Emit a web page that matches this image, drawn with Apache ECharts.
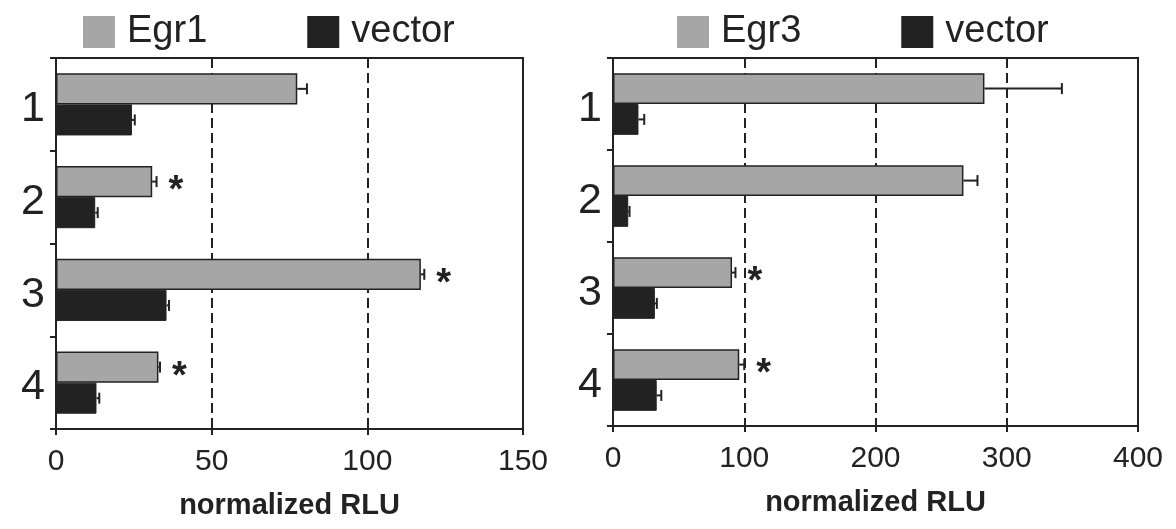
<!DOCTYPE html>
<html>
<head>
<meta charset="utf-8">
<script src="https://cdn.jsdelivr.net/npm/echarts@6/dist/echarts.min.js"></script>
<style>
  html, body { margin: 0; padding: 0; background: #fff; }
  #chart { width: 1176px; height: 529px; }
</style>
</head>
<body>
<div id="chart"></div>
<script>
  const categories = ['1', '2', '3', '4']

  // left panel: Egr1 vs vector
  const egr1Values = [77.5, 30.9, 117.2, 32.9]
  const egr1Errors = [3.1, 1.4, 1.1, 0.5]
  const vec1Values = [24.4, 12.6, 35.5, 13.0]
  const vec1Errors = [0.9, 0.8, 0.8, 0.9]
  const egr1Marks = ['', '*', '*', '*']
  const leftTicks = [0, 50, 100, 150]

  // right panel: Egr3 vs vector
  const egr3Values = [283, 267, 90.7, 96.2]
  const egr3Errors = [59, 10.7, 2.6, 3.8]
  const vec3Values = [19.4, 11.6, 31.9, 33.3]
  const vec3Errors = [4.4, 1.0, 1.5, 3.5]
  const egr3Marks = ['', '', '*', '*']
  const rightTicks = [0, 100, 200, 300, 400]

  const ink = '#222'
  const grey = '#a6a6a6'
  const font = '"Liberation Sans", Arial, sans-serif'
  const BAR_RATIO = 0.335

  const chart = echarts.init(document.getElementById('chart'))

  // error bar (+ significance star) drawn next to a bar
  function errorRender(side, marks) {
    return function (params, api) {
      const cat = api.value(0)
      const val = api.value(1)
      const err = api.value(2)
      const band = api.size([0, 1])[1]
      const w = band * BAR_RATIO
      const p = api.coord([val, cat])
      const y = p[1] + side * w / 2
      const xe = api.coord([val + err, cat])[0]
      const children = [
        { type: 'line', shape: { x1: p[0], y1: y, x2: xe, y2: y }, style: { stroke: ink, lineWidth: 2 } },
        { type: 'line', shape: { x1: xe, y1: y - 5.5, x2: xe, y2: y + 5.5 }, style: { stroke: ink, lineWidth: 2 } }
      ]
      const m = marks[params.dataIndex]
      if (m) {
        children.push({
          type: 'text',
          style: {
            text: m, x: xe + 12, y: y + 10, fill: ink,
            fontSize: 38, fontWeight: 'bold', fontFamily: font,
            verticalAlign: 'middle', align: 'left'
          }
        })
      }
      return { type: 'group', children }
    }
  }

  const errData = (vals, errs) => vals.map((v, i) => [i, v, errs[i]])

  const xAxisFor = (idx, ticks) => ({
    type: 'value',
    gridIndex: idx,
    min: ticks[0],
    max: ticks[ticks.length - 1],
    interval: ticks[1] - ticks[0],
    name: 'normalized RLU',
    nameLocation: 'middle',
    nameGap: 62,
    nameTextStyle: { fontSize: 29, fontWeight: 'bold', color: ink, fontFamily: font },
    axisLine: { show: true, lineStyle: { color: ink, width: 2 } },
    axisTick: { show: true, length: 6, lineStyle: { color: ink, width: 2 } },
    axisLabel: { fontSize: 30, color: ink, margin: 18, fontFamily: font },
    splitLine: { show: true, showMinLine: false, showMaxLine: false, lineStyle: { color: ink, width: 2, type: [10, 5] } }
  })

  const yAxisFor = (idx) => ({
    type: 'category',
    gridIndex: idx,
    data: categories,
    inverse: true,
    axisLine: { show: true, lineStyle: { color: ink, width: 2 } },
    axisTick: { show: true, length: 6, lineStyle: { color: ink, width: 2 } },
    axisLabel: { fontSize: 43, color: ink, margin: 11, fontFamily: font, verticalAlign: 'top', lineHeight: 10 },
    splitLine: { show: false }
  })

  const barFor = (name, idx, vals, color, border) => ({
    name: name,
    type: 'bar',
    xAxisIndex: idx,
    yAxisIndex: idx,
    data: vals,
    barWidth: (BAR_RATIO * 100) + '%',
    barGap: '0%',
    itemStyle: { color: color, borderColor: ink, borderWidth: border },
    emphasis: { disabled: true }
  })

  const errFor = (idx, vals, errs, side, marks) => ({
    type: 'custom',
    xAxisIndex: idx,
    yAxisIndex: idx,
    data: errData(vals, errs),
    encode: { x: 1, y: 0 },
    renderItem: errorRender(side, marks),
    z: 5,
    silent: true
  })

  const legendFor = (left, names) => ({
    left: left,
    top: 13,
    padding: 0,
    itemWidth: 32,
    itemHeight: 32,
    itemGap: 100,
    icon: 'rect',
    textStyle: { fontSize: 38, color: ink, fontFamily: font, padding: [0, 0, 0, 7] },
    data: [
      { name: names[0], itemStyle: { borderWidth: 0 } },
      { name: names[1], itemStyle: { borderWidth: 0 } }
    ]
  })

  chart.setOption({
    animation: false,
    backgroundColor: '#fff',
    textStyle: { fontFamily: font },
    legend: [
      legendFor(83, ['Egr1', 'vector']),
      legendFor(677, ['Egr3', 'vector '])
    ],
    grid: [
      { left: 56, top: 58, width: 467, height: 371, show: true, borderColor: ink, borderWidth: 2 },
      { left: 613, top: 58, width: 525, height: 368, show: true, borderColor: ink, borderWidth: 2 }
    ],
    xAxis: [xAxisFor(0, leftTicks), xAxisFor(1, rightTicks)],
    yAxis: [yAxisFor(0), yAxisFor(1)],
    series: [
      barFor('Egr1', 0, egr1Values, grey, 1.5),
      barFor('vector', 0, vec1Values, ink, 1),
      errFor(0, egr1Values, egr1Errors, -1, egr1Marks),
      errFor(0, vec1Values, vec1Errors, 1, []),
      barFor('Egr3', 1, egr3Values, grey, 1.5),
      barFor('vector ', 1, vec3Values, ink, 1),
      errFor(1, egr3Values, egr3Errors, -1, egr3Marks),
      errFor(1, vec3Values, vec3Errors, 1, [])
    ]
  })
</script>
</body>
</html>
